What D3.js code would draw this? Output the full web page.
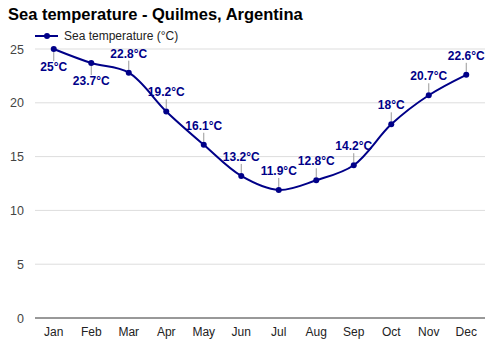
<!DOCTYPE html>
<html><head><meta charset="utf-8">
<script src="https://cdn.jsdelivr.net/npm/d3@7"></script>
<style>body{margin:0;background:#fff}svg{display:block;font-family:"Liberation Sans",Arial,sans-serif}</style>
</head><body><svg id="c" width="500" height="350"></svg>
<script>
const months = ["Jan","Feb","Mar","Apr","May","Jun","Jul","Aug","Sep","Oct","Nov","Dec"];
const temps = [25,23.7,22.8,19.2,16.1,13.2,11.9,12.8,14.2,18,20.7,22.6];
const labelBelow = [true,true,false,false,false,false,false,false,false,false,false,false];
const yTicks = [0,5,10,15,20,25];
const title = "Sea temperature - Quilmes, Argentina";
const seriesName = "Sea temperature (°C)";

const svg = d3.select("#c");
const color = "#000088";
const x = d3.scaleBand().domain(months).range([35,485]);
const y = d3.scaleLinear().domain([0,25]).range([318,49]);
const cx = m => x(m) + x.bandwidth()/2;

svg.append("text").attr("x",8).attr("y",20).attr("font-size",16.5).attr("font-weight","bold").attr("fill","#000").text(title);
svg.append("line").attr("x1",35).attr("x2",58).attr("y1",36).attr("y2",36).attr("stroke",color).attr("stroke-width",2);
svg.append("circle").attr("cx",47).attr("cy",36).attr("r",3).attr("fill",color);
svg.append("text").attr("x",64).attr("y",40).attr("font-size",12).attr("fill","#222").text(seriesName);

const g = svg.append("g");
g.selectAll("line.grid").data(yTicks.filter(t=>t>0)).join("line").attr("class","grid")
  .attr("x1",35).attr("x2",485).attr("y1",d=>y(d)).attr("y2",d=>y(d)).attr("stroke","#ddd").attr("stroke-width",1);
g.append("line").attr("x1",35).attr("x2",485).attr("y1",y(0)).attr("y2",y(0)).attr("stroke","#333").attr("stroke-width",1);

const yAxis = d3.axisLeft(y).tickValues(yTicks).tickSize(0).tickPadding(0);
const ya = svg.append("g").attr("transform","translate(24,0)").call(yAxis);
ya.select(".domain").remove();
ya.selectAll("text").attr("font-size",12.5).attr("fill","#444").attr("font-family","Liberation Sans, Arial, sans-serif");

const xAxis = d3.axisBottom(x).tickSize(0).tickPadding(0);
const xa = svg.append("g").attr("transform","translate(0,327)").call(xAxis);
xa.select(".domain").remove();
xa.selectAll("text").attr("font-size",12).attr("fill","#222").attr("dy","0.71em").attr("font-family","Liberation Sans, Arial, sans-serif");

const data = months.map((m,i)=>({m,v:temps[i],below:labelBelow[i]}));
svg.selectAll("line.lead").data(data).join("line").attr("class","lead")
  .attr("x1",d=>cx(d.m)).attr("x2",d=>cx(d.m))
  .attr("y1",d=>d.below? y(d.v)+3 : y(d.v)-3)
  .attr("y2",d=>d.below? y(d.v)+12 : y(d.v)-12)
  .attr("stroke","#999").attr("stroke-width",1);

const line = d3.line().x(d=>cx(d.m)).y(d=>y(d.v)).curve(d3.curveCatmullRom.alpha(0.5));
svg.append("path").datum(data).attr("d",line).attr("fill","none").attr("stroke",color).attr("stroke-width",2);
svg.selectAll("circle.pt").data(data).join("circle").attr("class","pt")
  .attr("cx",d=>cx(d.m)).attr("cy",d=>y(d.v)).attr("r",3).attr("fill",color);

svg.selectAll("text.lbl").data(data).join("text").attr("class","lbl")
  .attr("x",d=>cx(d.m)).attr("y",d=>d.below? y(d.v)+22 : y(d.v)-15)
  .attr("text-anchor","middle").attr("font-size",12).attr("font-weight","bold").attr("fill",color)
  .text(d=>d.v+"°C");
</script></body></html>
